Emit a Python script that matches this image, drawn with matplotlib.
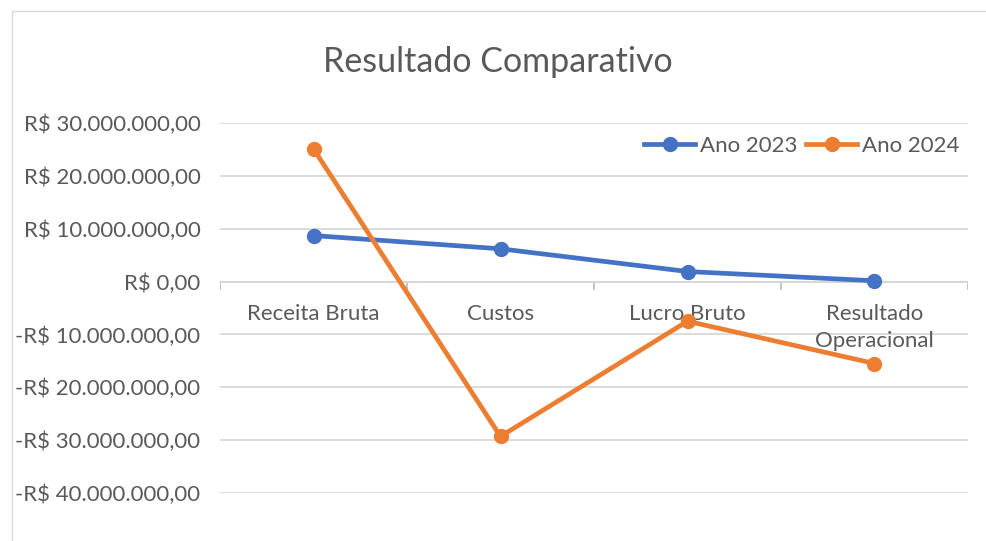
import matplotlib

matplotlib.use("Agg")
import matplotlib.pyplot as plt
import matplotlib.patches as mpatches

categorias = ["Receita Bruta", "Custos", "Lucro Bruto", "Resultado\nOperacional"]
ano_2023 = [8_700_000, 6_200_000, 1_900_000, 150_000]
ano_2024 = [25_100_000, -29_300_000, -7_500_000, -15_500_000]
y_ticks = [30e6, 20e6, 10e6, 0, -10e6, -20e6, -30e6, -40e6]

AZUL = "#4472C4"
LARANJA = "#ED7D31"
CINZA_TXT = "#595959"
GRADE = "#D9D9D9"
FONTE = ["Lato", "DejaVu Sans"]
TAM = 16


def fmt_real(v):
    s = f"{abs(v):,.2f}".replace(",", "X").replace(".", ",").replace("X", ".")
    return ("-R$ " if v < 0 else "R$ ") + s


fig = plt.figure(figsize=(9.87, 5.41), dpi=100)
fig.patches.append(mpatches.Rectangle((12 / 987, -0.01), 1, 1.01 - 11 / 541, transform=fig.transFigure,
                                      facecolor="white", edgecolor="#D9D9D9", linewidth=1, zorder=-5))
ax = fig.add_axes([220 / 987, 1 - 493 / 541, 748 / 987, 370 / 541])
ax.set_facecolor("none")

x = list(range(len(categorias)))
ax.plot(x, ano_2023, color=AZUL, lw=3.4, marker="o", ms=10, label="Ano 2023", zorder=3)
ax.plot(x, ano_2024, color=LARANJA, lw=3.4, marker="o", ms=10, label="Ano 2024", zorder=3)

ax.set_xlim(-0.5, len(categorias) - 0.5)
ax.set_ylim(-40e6, 30e6)
ax.set_yticks(y_ticks)
ax.set_yticklabels([fmt_real(v) for v in y_ticks], fontsize=TAM, color=CINZA_TXT, family=FONTE)
ax.tick_params(axis="y", length=0, pad=14)
ax.set_xticks([])
ax.grid(axis="y", color=GRADE, lw=1.3, zorder=0)
for s in ax.spines.values():
    s.set_visible(False)

# eixo das categorias no zero, com marcas entre as categorias
ax.axhline(0, color="#BFBFBF", lw=1.3, zorder=1)
for b in range(len(categorias) + 1):
    ax.plot([b - 0.5, b - 0.5], [0, -1.4e6], color="#BFBFBF", lw=1.3, zorder=1)
for i, c in enumerate(categorias):
    ax.text(i, -4.2e6, c, ha="center", va="top", fontsize=TAM, color=CINZA_TXT,
            family=FONTE, linespacing=1.45, zorder=2)

fig.text(498 / 987, 1 - 62 / 541, "Resultado Comparativo", ha="center", va="center",
         fontsize=24.5, color=CINZA_TXT, family=FONTE)

leg = ax.legend(loc="upper right", bbox_to_anchor=(1.0, 0.99), ncol=2, frameon=False,
                fontsize=TAM, handlelength=2.3, columnspacing=0.4, handletextpad=0.2,
                borderaxespad=0)
for t in leg.get_texts():
    t.set_color(CINZA_TXT)
    t.set_family(FONTE)

fig.savefig("out.png", dpi=100)
